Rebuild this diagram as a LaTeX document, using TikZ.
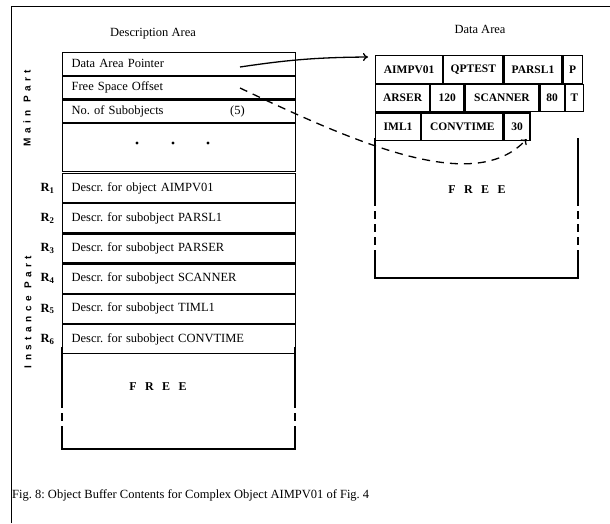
\documentclass[tikz,border=0pt]{standalone}
\usepackage{fontspec}
\setmainfont{Liberation Serif}
\newfontfamily\partfont[LetterSpace=45]{Liberation Sans}
\newfontfamily\freefont[LetterSpace=70]{Liberation Serif}
\usetikzlibrary{arrows.meta,positioning}
\frenchspacing

\begin{document}
\begin{tikzpicture}[
    x=1pt,y=-1pt,
    font=\fontsize{12.5}{15}\selectfont,>={To[length=5pt,width=8pt]},
    box/.style={draw,line width=1.2pt},
    mrow/.style={box,anchor=north west,minimum height=22.5pt,text width=215pt,inner xsep=9pt,inner ysep=0pt,align=left},
    irow/.style={mrow,minimum height=29pt},
    cell/.style={box,anchor=north west,minimum height=27.5pt,inner sep=0pt,font=\fontsize{11.5}{14}\selectfont\bfseries},
    rlabel/.style={left=4pt of #1,font=\fontsize{12.5}{15}\selectfont\bfseries},
    partlabel/.style={rotate=90,font=\fontsize{10}{11}\selectfont\partfont\bfseries},
    freelabel/.style={font=\fontsize{12}{14}\selectfont\freefont\bfseries},
    gap/.style={box,dash pattern=on 8pt off 5pt},
    ]
    \useasboundingbox (0,0) rectangle (610,523);
    \draw[line width=1pt] (11,523) -- (11,6) -- (610,6);

    \node (desc) at (153,34) {Description Area};
    \node (data) at (480,29) {Data Area};
    \node[partlabel] (mainp) at (27,108) {Main Part};
    \node[partlabel] (instp) at (28,312) {Instance Part};

    \node[mrow] (m1) at (62,52) {Data Area Pointer};
    \node[mrow,below=0pt of m1] (m2) {Free Space Offset};
    \node[mrow,below=0pt of m2] (m3) {No. of Subobjects};
    \node[mrow,below=0pt of m3,minimum height=47.5pt] (m4) {};
    \node[left=48pt of m3.east] (nsub) {(5)};
    \foreach \x in {137,173,208} \fill (\x,143) circle (1.7pt);

    \node[irow] (i1) at (62,173) {Descr. for object AIMPV01};
    \node[irow,below=0pt of i1] (i2) {Descr. for subobject PARSL1};
    \node[irow,below=0pt of i2] (i3) {Descr. for subobject PARSER};
    \node[irow,below=0pt of i3] (i4) {Descr. for subobject SCANNER};
    \node[irow,below=0pt of i4] (i5) {Descr. for subobject TIML1};
    \node[irow,below=0pt of i5] (i6) {Descr. for subobject CONVTIME};
    \node[rlabel=i1] (r1) {R\textsubscript{\textbf{1}}};
    \node[rlabel=i2] (r2) {R\textsubscript{\textbf{2}}};
    \node[rlabel=i3] (r3) {R\textsubscript{\textbf{3}}};
    \node[rlabel=i4] (r4) {R\textsubscript{\textbf{4}}};
    \node[rlabel=i5] (r5) {R\textsubscript{\textbf{5}}};
    \node[rlabel=i6] (r6) {R\textsubscript{\textbf{6}}};
    \draw[box] (62,347) -- (62,400) (62,433) -- (62,449) -- (295,449) -- (295,433) (295,400) -- (295,347);
    \draw[gap] (62,400) -- (62,433) (295,400) -- (295,433);
    \node[freelabel] (lfree) at (158,387) {FREE};

    \node[cell,minimum width=67pt] (a1) at (375,55) {AIMPV01};
    \node[cell,minimum width=59pt,right=0pt of a1] (a2) {QPTEST};
    \node[cell,minimum width=58pt,right=0pt of a2] (a3) {PARSL1};
    \node[cell,minimum width=19pt,right=0pt of a3] (a4) {P};
    \node[cell,minimum width=54pt,below=0pt of a1.south west,anchor=north west] (b1) {ARSER};
    \node[cell,minimum width=33pt,right=0pt of b1] (b2) {120};
    \node[cell,minimum width=74pt,right=0pt of b2] (b3) {SCANNER};
    \node[cell,minimum width=24pt,right=0pt of b3] (b4) {80};
    \node[cell,minimum width=18pt,right=0pt of b4] (b5) {T};
    \node[cell,minimum width=45pt,below=0pt of b1.south west,anchor=north west] (c1) {IML1};
    \node[cell,minimum width=81pt,right=0pt of c1] (c2) {CONVTIME};
    \node[cell,minimum width=26pt,right=0pt of c2] (c3) {30};
    \draw[box] (375,138) -- (375,198) (375,258) -- (375,278) -- (578,278) -- (578,258) (578,198) -- (578,138);
    \draw[gap] (375,198) -- (375,258) (578,198) -- (578,258);
    \node[freelabel] (dfree) at (477,190) {FREE};

    \coordinate (ptr) at (240,67);
    \coordinate (off) at (240,88);
    \draw[->,line width=1.3pt] (ptr) to[bend left=4] ([shift={(-7,2)}]a1.north west);
    \draw[->,line width=1.3pt,dash pattern=on 8pt off 6pt] (off) .. controls (360,145) and (475,195) .. ([shift={(-4,-2)}]c3.south east);

    \node[anchor=west,inner sep=0pt] (cap) at (12,495) {Fig. 8: Object Buffer Contents for Complex Object AIMPV01 of Fig. 4};
\end{tikzpicture}
\end{document}
